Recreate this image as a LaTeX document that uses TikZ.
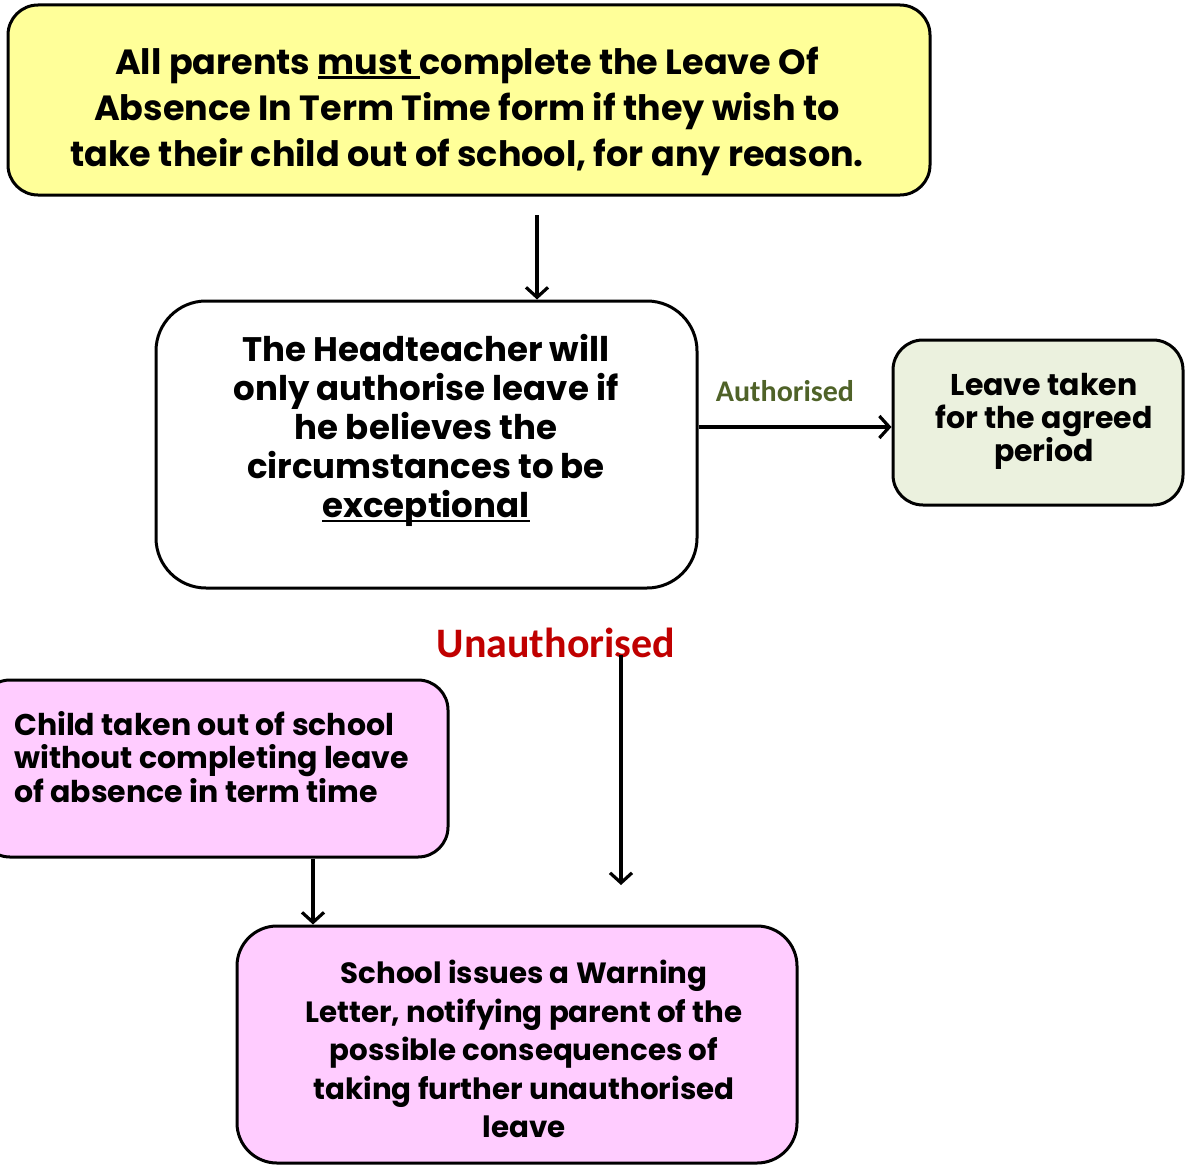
\documentclass[tikz,border=0pt]{standalone}
\usepackage{fontspec}
\setmainfont{Poppins}
\newfontfamily\calibri{Carlito}
\usepackage{tikz}
\usetikzlibrary{arrows.meta}

\definecolor{notice}{RGB}{255,255,153}
\definecolor{agreed}{RGB}{235,241,222}
\definecolor{warning}{RGB}{255,204,255}
\definecolor{okgreen}{RGB}{79,98,40}
\definecolor{nored}{RGB}{192,0,0}

% thick underline
\newcommand\ulbox[1]{\setbox0\hbox{#1}\rlap{\rule[-5pt]{\wd0}{2.6pt}}\box0}

\tikzset{
  box/.style={draw, line width=3pt, rounded corners=#1, inner sep=0pt},
  arr/.style={line width=3.2pt, -{Straight Barb[length=10pt,width=22pt]}},
  txt/.style={align=center, inner sep=0pt, font=\bfseries}
}

\begin{document}
\begin{tikzpicture}[x=1pt,y=-1pt]
\useasboundingbox (0,0) rectangle (1185,1164);
% boxes
\node[box=30pt, fill=notice, minimum width=922pt, minimum height=190pt] (topbox) at (469,100) {};
\node[box=50pt, fill=white, minimum width=541pt, minimum height=287pt] (headbox) at (426.5,444.5) {};
\node[box=30pt, fill=agreed, minimum width=290pt, minimum height=165pt] (leavebox) at (1038,422.5) {};
\node[box=30pt, fill=warning, minimum width=468pt, minimum height=177pt] (childbox) at (214,768.5) {};
\node[box=40pt, fill=warning, minimum width=560pt, minimum height=237pt] (warnbox) at (517,1044.5) {};
% texts
\node[txt, font=\bfseries\fontsize{35}{46}\selectfont] (toptext) at (467,111)
  {All parents \ulbox{must\ }complete the Leave Of\\
   Absence In Term Time form if they wish to\\
   take their child out of school, for any reason.};
\node[txt, font=\bfseries\fontsize{34}{39}\selectfont] (headtext) at (426,430)
  {The Headteacher will\\ only authorise leave if\\ he believes the\\
   circumstances to be\\ \ulbox{exceptional}};
\node[txt, font=\bfseries\fontsize{30}{33}\selectfont] (leavetext) at (1044,421)
  {Leave taken\\ for the agreed\\ period};
\node[txt, align=left, anchor=west, font=\bfseries\fontsize{30}{33.5}\selectfont] (childtext) at (14,757)
  {Child taken out of school\\ without completing leave\\ of absence in term time};
\node[txt, font=\bfseries\fontsize{29.3}{38.5}\selectfont] (warntext) at (524,1049)
  {School issues a Warning\\ Letter, notifying parent of the\\ possible consequences of\\
   taking further unauthorised\\ leave};
\node[inner sep=0pt, text=okgreen, font=\calibri\bfseries\fontsize{30}{32}\selectfont] (authlabel) at (785,391) {Authorised};
\node[inner sep=0pt, text=nored, font=\calibri\bfseries\fontsize{42}{46}\selectfont] (unauthlabel) at (556,643) {Unauthorised};
% connectors
\coordinate (formend) at (537,215);
\coordinate (unstart) at (621,655);
\coordinate (unend) at (621,885);
\draw[arr] (formend) -- (formend |- headbox.north);
\draw[arr] ([yshift=-4.5pt]headbox.east |- leavebox.west) -- ([yshift=-4.5pt]leavebox.west);
\draw[arr] (unstart) -- (unend);
\draw[arr] ([xshift=99pt]childbox.south) -- ([xshift=99pt]childbox.south |- warnbox.north);
\end{tikzpicture}
\end{document}
